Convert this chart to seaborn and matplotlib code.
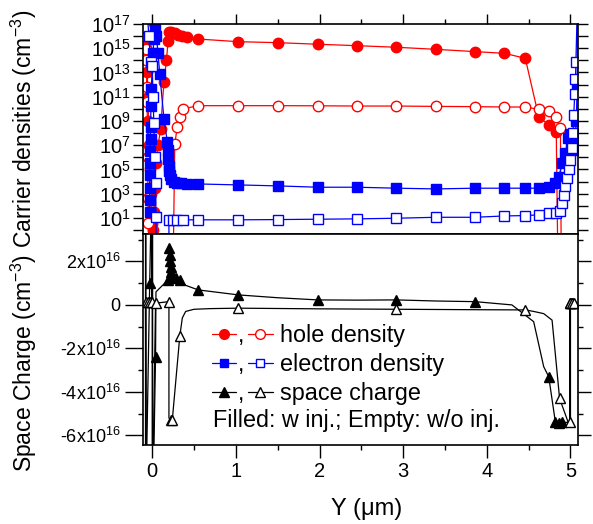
import numpy as np
import pandas as pd
import matplotlib
matplotlib.use("Agg")
import matplotlib.pyplot as plt
import seaborn as sns
from matplotlib.ticker import FixedLocator, FixedFormatter, MultipleLocator, NullFormatter

sns.set_theme(style="ticks")
plt.rcParams["font.family"] = ["Liberation Sans", "DejaVu Sans"]
plt.rcParams["mathtext.default"] = "regular"
for k in ["text.color", "axes.labelcolor", "xtick.color", "ytick.color", "axes.edgecolor"]:
    plt.rcParams[k] = "black"

# ---------------- data (x in um; densities as log10 of cm^-3) ----------------
hole_w_x = [-0.08, -0.07, -0.06, -0.05, -0.045, -0.04, -0.03, -0.02, -0.01, 0.0, 0.01, 0.02,
            0.03, 0.04, 0.07, 0.10, 0.14, 0.17, 0.19, 0.20, 0.23, 0.27, 0.31, 0.36, 0.42,
            0.55, 1.03, 1.50, 1.98, 2.45, 2.92, 3.39, 3.86, 4.21, 4.46, 4.62, 4.74, 4.83, 4.85]
hole_w_log = [16.5, 15.0, 13.0, 11.0, 9.0, 7.0, 5.0, 3.0, 1.5, 0.5, 0.0, 1.5,
              3.5, 5.5, 7.0, 8.3, 12.2, 14.0, 15.6, 16.3, 16.35, 16.25, 16.1, 16.0, 15.9,
              15.76, 15.54, 15.46, 15.33, 15.21, 15.08, 14.91, 14.72, 14.58, 14.17, 9.36, 8.67, 8.12, -3.0]

hole_wo_x = [-0.085, -0.08, -0.075, -0.07, -0.065, -0.06, -0.055, -0.05, -0.045, -0.04, 0.25,
             0.27, 0.30, 0.33, 0.37, 0.55, 1.03, 1.50, 1.98, 2.45, 2.92, 3.39, 3.86, 4.21,
             4.46, 4.62, 4.74, 4.83, 4.88, 4.89]
hole_wo_log = [16.7, 15.9, 14.9, 14.0, 11.8, 10.6, 6.0, 2.6, 0.6, -3.0, -3.0,
               7.1, 8.53, 9.36, 10.0, 10.26, 10.26, 10.26, 10.25, 10.23, 10.23, 10.2, 10.18, 10.15,
               10.15, 9.96, 9.85, 9.36, 8.4, -3.0]

elec_w_x = [-0.03, -0.03, -0.03, -0.03, -0.03, -0.025, -0.02, -0.02, -0.015, -0.01, 0.0, 0.01,
            0.02, 0.03, 0.05, 0.07, 0.09, 0.14, 0.18, 0.185, 0.19, 0.195, 0.20, 0.21, 0.23,
            0.26, 0.30, 0.35, 0.42, 0.55, 1.03, 1.50, 1.98, 2.45, 2.92, 3.39, 3.86, 4.21,
            4.46, 4.62, 4.74, 4.82, 4.86, 4.90, 4.94, 4.97, 4.99, 5.01, 5.03, 5.05, 5.07, 5.08, 5.085]
elec_w_log = [1.5, 2.5, 3.5, 4.5, 5.5, 6.5, 7.5, 8.5, 10.2, 11.6, 13.5, 14.6,
              15.8, 16.8, 16.0, 14.6, 12.9, 9.2, 7.3, 6.6, 5.9, 5.3, 4.9, 4.5, 4.2,
              4.0, 3.9, 3.85, 3.82, 3.8, 3.72, 3.64, 3.53, 3.53, 3.45, 3.39, 3.45, 3.45,
              3.45, 3.45, 3.58, 3.86, 4.4, 5.5, 6.36, 7.57, 7.9, 7.3, 6.6, 7.2, 9.0, 12.0, 18.0]

elec_wo_x = [-0.06, -0.04, -0.02, 0.0, 0.01, 0.02, 0.03, 0.04, 0.045, 0.05, 0.20, 0.20, 0.25,
             0.30, 0.37, 0.55, 1.03, 1.50, 1.98, 2.45, 2.92, 3.39, 3.86, 4.21, 4.46, 4.62,
             4.74, 4.83, 4.87, 4.90, 4.92, 4.94, 4.96, 4.98, 5.00, 5.02, 5.03, 5.04, 5.05,
             5.06, 5.065, 5.08]
elec_wo_log = [18.0, 16.0, 13.9, 13.5, 11.0, 8.8, 6.0, 3.9, 1.1, -3.0, -3.0, 0.84, 0.84,
               0.84, 0.84, 0.84, 0.84, 0.86, 0.89, 0.92, 0.97, 1.05, 1.05, 1.16, 1.19, 1.25,
               1.39, 1.44, 1.6, 2.2, 2.9, 3.6, 4.3, 5.0, 5.8, 6.8, 8.0, 9.5, 11.2,
               12.5, 13.9, 18.0]

# space charge in units of 1e16 cm^-3; *_mk: whether a symbol is drawn at that point
sc_w_x = [-0.08, -0.08, -0.03, 0.005, 0.005, 0.04, 0.045, 0.19, 0.20, 0.21, 0.215, 0.22,
          0.23, 0.25, 0.28, 0.33, 0.40, 0.55, 1.03, 1.50, 1.98, 2.45, 2.92, 3.39, 3.86,
          4.30, 4.56, 4.68, 4.74, 4.82, 4.86, 4.90, 4.99, 4.99, 5.01, 5.03]
sc_w = [8.0, -10.0, 1.0, 8.0, -10.0, -2.4, 0.6, 1.15, 2.6, 2.3, 2.0, 1.75,
        1.5, 1.35, 1.25, 1.15, 0.9, 0.69, 0.46, 0.33, 0.23, 0.22, 0.23, 0.18, 0.15,
        0.0, -0.77, -2.84, -3.3, -5.4, -5.45, -5.4, -5.4, 0.1, 0.1, 0.1]
sc_w_mk = [0, 0, 1, 0, 0, 1, 0, 1, 1, 1, 1, 1,
           1, 1, 1, 1, 0, 1, 1, 0, 1, 0, 1, 0, 1,
           0, 0, 0, 1, 1, 1, 1, 0, 1, 1, 1]

sc_wo_x = [-0.075, -0.075, -0.08, -0.055, -0.03, -0.005, 0.0, 0.0, 0.04, 0.20, 0.20, 0.22,
           0.24, 0.33, 0.36, 0.40, 0.50, 0.70, 1.03, 1.98, 2.92, 3.86, 4.46, 4.56, 4.68,
           4.78, 4.87, 4.97, 5.00, 5.00, 5.02, 5.04]
sc_wo = [8.0, -10.0, 0.12, 0.12, 0.12, 0.12, 8.0, -10.0, 0.08, 0.15, -5.2, -5.3,
         -5.3, -1.43, -0.6, -0.3, -0.2, -0.17, -0.15, -0.18, -0.2, -0.22, -0.23, -0.3, -0.4,
         -0.7, -4.3, -5.37, -5.37, 0.08, 0.08, 0.08]
sc_wo_mk = [0, 0, 1, 1, 1, 1, 0, 0, 1, 1, 0, 1,
            1, 1, 0, 0, 0, 0, 1, 0, 1, 0, 1, 0, 0,
            0, 1, 0, 1, 1, 1, 1]

x_ticks = [0, 1, 2, 3, 4, 5]
dens_label_exps = [1, 3, 5, 7, 9, 11, 13, 15, 17]
dens_minor_exps = [0, 2, 4, 6, 8, 10, 12, 14, 16]
sc_major = [-6, -4, -2, 0, 2]
sc_labels = ["-6x10$^{16}$", "-4x10$^{16}$", "-2x10$^{16}$", "0", "2x10$^{16}$"]

RED = "#ff0000"
BLUE = "#0000ff"
BLK = "#000000"

# ---------------- figure ----------------
fig = plt.figure(figsize=(5.93, 5.24), dpi=100)
W, H = 593.0, 524.0
L, R = 143.0, 578.0
ax1 = fig.add_axes([L / W, 1 - 234 / H, (R - L) / W, 210 / H])
ax2 = fig.add_axes([L / W, 1 - 445 / H, (R - L) / W, 211 / H])
ax1.set_yscale("log")


def series(ax, xs, ys, color, marker, filled, ms, mk=None):
    df = pd.DataFrame({"x": xs, "y": ys})
    kw = dict(color=color, marker=marker, markersize=ms, linewidth=0.9,
              markeredgecolor=color, markeredgewidth=1.0,
              markerfacecolor=color if filled else "white")
    if mk is not None:
        kw["markevery"] = [bool(v) for v in mk]
    sns.lineplot(data=df, x="x", y="y", ax=ax, sort=False, estimator=None, legend=False, **kw)


series(ax1, hole_w_x, list(10.0 ** np.array(hole_w_log)), RED, "o", True, 7.5)
series(ax1, hole_wo_x, list(10.0 ** np.array(hole_wo_log)), RED, "o", False, 7.5)
series(ax1, elec_w_x, list(10.0 ** np.array(elec_w_log)), BLUE, "s", True, 6.5)
series(ax1, elec_wo_x, list(10.0 ** np.array(elec_wo_log)), BLUE, "s", False, 6.5)

series(ax2, sc_w_x, sc_w, BLK, "^", True, 7.5, sc_w_mk)
series(ax2, sc_wo_x, sc_wo, BLK, "^", False, 7.5, sc_wo_mk)

# ---------------- axes styling ----------------
TFS = 14.5
for ax in (ax1, ax2):
    ax.set_xlim(-0.11, 5.09)
    ax.xaxis.set_major_locator(FixedLocator(x_ticks))
    ax.xaxis.set_minor_locator(MultipleLocator(0.5))
    for s in ax.spines.values():
        s.set_linewidth(1.2)
        s.set_color("black")
        s.set_visible(True)
    ax.set_xlabel("")
    ax.set_ylabel("")

ax1.set_ylim(10 ** -0.33, 1e17)
ax1.yaxis.set_major_locator(FixedLocator([10.0 ** k for k in dens_label_exps]))
ax1.yaxis.set_major_formatter(FixedFormatter(["10$^{%d}$" % k for k in dens_label_exps]))
ax1.yaxis.set_minor_locator(FixedLocator([10.0 ** k for k in dens_minor_exps]))
ax1.yaxis.set_minor_formatter(NullFormatter())
ax1.tick_params(axis="both", which="both", direction="out", top=True, right=True,
                bottom=True, left=True, labelbottom=False, width=1.0, labelsize=TFS, pad=2)
ax1.tick_params(axis="y", which="both", length=7)
ax1.tick_params(axis="x", which="major", length=7.5)
ax1.tick_params(axis="x", which="minor", length=3.5)

ax2.set_ylim(-6.44, 3.26)
ax2.yaxis.set_major_locator(FixedLocator(sc_major))
ax2.yaxis.set_major_formatter(FixedFormatter(sc_labels))
ax2.yaxis.set_minor_locator(MultipleLocator(1))
ax2.xaxis.set_major_formatter(FixedFormatter([str(v) for v in x_ticks]))
ax2.tick_params(axis="both", which="both", direction="out", top=False, right=True,
                bottom=True, left=True, width=1.0, labelsize=TFS)
ax2.tick_params(axis="y", which="major", length=13, pad=3, labelsize=13)
ax2.tick_params(axis="x", which="major", length=9, pad=3)
ax2.tick_params(axis="both", which="minor", length=3.5)
for t in ax2.yaxis.get_major_ticks():
    t.tick2line.set_markersize(9)

ALFS = 16.5
ax1.set_ylabel("Carrier densities (cm$^{-3}$)", fontsize=ALFS)
ax1.yaxis.set_label_coords(-0.24, 0.5)
ax2.set_ylabel("Space Charge (cm$^{-3}$)", fontsize=ALFS)
ax2.yaxis.set_label_coords(-0.24, 0.39)
ax2.set_xlabel("Y (\u03bcm)", fontsize=17)
ax2.xaxis.set_label_coords(0.513, -0.25)

# ---------------- legend (drawn in axes fraction) ----------------
leg_rows = [("hole density", RED, "o", 7.0), ("electron density", BLUE, "s", 6.0),
            ("space charge", BLK, "^", 7.0)]
leg_y = [0.526, 0.389, 0.251]
tr = ax2.transAxes
LFS = 16.8
for (lab, col, mkr, ms), yy in zip(leg_rows, leg_y):
    for x0, x1, filled in [(0.159, 0.214, True), (0.241, 0.299, False)]:
        ax2.plot([x0, (x0 + x1) / 2, x1], [yy, yy, yy], transform=tr, color=col, lw=0.9,
                 marker=mkr, markersize=ms, markevery=[1], markeredgecolor=col,
                 markerfacecolor=col if filled else "white", clip_on=False)
    ax2.text(0.219, yy - 0.038, ",", transform=tr, fontsize=LFS, va="baseline", ha="left")
    ax2.text(0.315, yy - 0.038, lab, transform=tr, fontsize=LFS, va="baseline", ha="left")
ax2.text(0.161, 0.085, "Filled: w inj.; Empty: w/o inj.", transform=tr, fontsize=LFS,
         va="baseline", ha="left")

fig.savefig("out.png", dpi=100)
